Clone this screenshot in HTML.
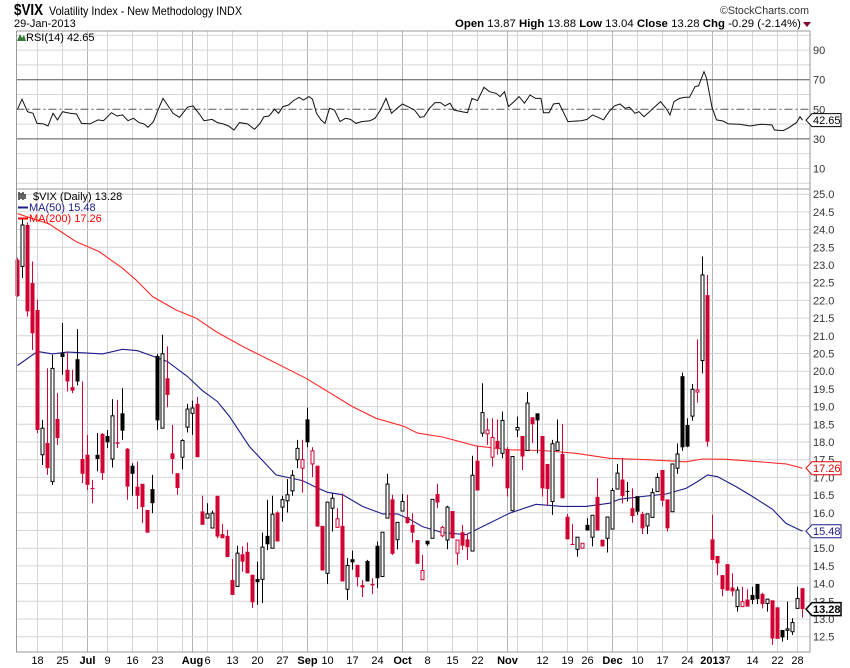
<!DOCTYPE html>
<html><head><meta charset="utf-8"><style>
html,body{margin:0;padding:0;background:#fff;}
svg{display:block;font-family:"Liberation Sans",sans-serif;}
</style></head><body>
<svg id="chart" width="850" height="668" viewBox="0 0 850 668" xmlns="http://www.w3.org/2000/svg">
<text x="14" y="15" font-size="16" font-weight="bold" fill="#000" textLength="29" lengthAdjust="spacingAndGlyphs">$VIX</text>
<text x="49" y="15" font-size="12" fill="#000" textLength="193" lengthAdjust="spacingAndGlyphs">Volatility Index - New Methodology  INDX</text>
<text x="14" y="27" font-size="11" fill="#000">29-Jan-2013</text>
<text x="720" y="14" font-size="11" fill="#333" textLength="89" lengthAdjust="spacingAndGlyphs">©StockCharts.com</text>
<text x="455" y="27" font-size="11" fill="#000" textLength="346" lengthAdjust="spacingAndGlyphs"><tspan font-weight="bold">Open</tspan> 13.87 <tspan font-weight="bold">High</tspan> 13.88 <tspan font-weight="bold">Low</tspan> 13.04 <tspan font-weight="bold">Close</tspan> 13.28 <tspan font-weight="bold">Chg</tspan> -0.29 (-2.14%)</text>
<path d="M803 22 L811 22 L807 27 Z" fill="#8b0033"/>
<g id="rsiPanel"></g>
<g id="mainPanel"></g>
<g id="xAxis"></g>
</svg>
<script>
const NS='http://www.w3.org/2000/svg';
// ---- data ----
const opens=[23.15,22.96,24.13,22.49,21.73,17.64,17.97,16.88,18.65,20.51,20.04,19.55,20.34,17.52,17.64,16.70,17.64,18.23,18.17,17.52,17.99,18.81,17.81,17.33,16.74,16.82,16.08,16.67,20.43,18.39,19.80,17.68,17.12,17.57,18.42,18.81,19.08,16.04,15.85,15.57,16.48,15.40,15.35,14.10,13.92,14.83,14.90,14.25,14.13,14.12,15.35,15.00,16.01,16.16,16.34,16.62,17.50,17.26,18.64,17.38,17.33,15.63,14.29,16.13,15.59,15.63,13.84,14.69,14.53,13.96,14.64,13.99,15.07,14.20,15.85,16.38,15.24,16.05,15.88,15.66,15.23,14.11,15.21,15.28,16.53,15.35,15.23,16.05,14.86,15.45,15.25,14.92,17.47,18.25,18.23,17.57,18.03,17.68,17.80,16.06,18.34,18.17,17.76,18.70,18.81,18.17,17.38,16.32,17.76,17.66,15.89,15.12,14.97,15.00,15.66,15.31,16.45,15.24,15.28,15.54,16.67,16.94,16.62,16.13,16.47,15.97,15.63,15.87,16.60,17.21,16.38,16.03,17.26,19.86,18.48,18.73,19.41,20.30,22.15,15.25,14.78,14.24,14.55,13.89,13.35,13.35,13.55,13.68,13.99,13.71,13.44,13.53,13.33,12.69,12.68,12.64,13.30,13.87];
const highs=[23.2,24.3,24.2,23.10,22.02,18.63,20.08,20.46,19.38,21.36,20.56,20.04,21.19,19.71,18.2,16.93,18.25,18.25,18.34,19.21,19.19,19.52,17.83,17.4,17.45,16.82,16.08,17.07,20.49,21.03,20.70,18.48,17.12,18.08,19.08,19.17,19.27,16.48,16.27,16.06,16.48,15.69,15.52,14.69,15.07,15.05,15.16,14.25,14.62,15.44,16.37,16.48,16.04,16.48,16.95,17.21,18.06,18.06,18.97,17.85,17.33,15.63,16.30,16.55,16.13,16.55,14.72,14.93,14.53,14.10,14.67,14.15,15.19,15.45,17.10,16.51,15.73,16.53,16.51,15.99,15.23,14.81,15.21,16.38,16.82,15.63,16.20,16.05,15.23,15.66,15.42,17.61,17.87,19.66,18.67,18.67,18.64,18.86,17.85,17.59,18.72,18.17,19.41,18.70,18.81,18.17,17.38,18.06,18.64,18.51,15.97,15.69,15.31,15.14,15.85,15.93,16.98,15.24,15.88,16.70,17.38,17.54,16.87,16.69,16.47,16.03,15.97,16.69,17.12,17.21,16.38,17.38,17.96,19.96,18.67,19.64,20.90,23.24,22.72,15.94,14.78,14.24,14.55,14.29,13.91,13.91,13.84,13.91,13.99,13.74,13.55,13.53,13.33,12.69,13.49,13.02,13.91,13.88];
const lows=[22.1,22.63,21.54,20.60,18.25,17.35,17.07,16.79,17.92,19.90,19.43,19.38,19.60,16.84,16.65,16.27,17.17,16.93,17.83,17.28,17.83,18.06,16.37,16.48,16.10,15.71,15.44,15.99,18.34,18.39,18.98,17.10,16.51,17.23,18.27,18.20,17.57,15.66,15.85,15.57,15.28,15.28,14.75,13.68,13.92,14.34,14.29,13.31,13.40,13.45,14.95,15.00,15.19,15.75,16.01,16.48,17.26,16.57,17.85,17.01,15.61,14.37,13.99,15.47,15.59,14.06,13.54,14.39,13.92,13.62,14.06,13.71,13.87,14.20,15.85,14.81,14.97,16.05,15.69,15.16,14.56,14.11,15.07,15.28,16.13,15.31,14.97,15.28,14.53,14.95,14.67,14.92,16.63,18.15,17.92,17.31,17.64,17.54,16.46,16.04,18.14,17.21,17.76,17.97,17.68,16.46,16.20,15.94,17.76,16.41,15.25,15.09,14.76,15.00,15.50,15.05,15.50,15.05,14.88,15.54,16.67,16.27,16.32,15.72,15.94,15.40,15.40,15.87,16.60,16.19,15.47,16.03,17.10,17.75,17.85,18.60,19.11,19.94,17.87,14.67,14.24,13.64,13.80,13.64,13.21,13.35,13.35,13.42,13.42,13.30,13.21,12.27,12.44,12.36,12.41,12.55,13.30,13.04];
const closes=[22.12,24.13,21.69,21.07,18.34,18.39,17.26,20.08,18.11,20.40,19.71,19.45,19.71,17.10,16.79,16.67,17.52,17.12,17.99,18.74,17.95,18.32,16.74,17.10,16.48,16.16,15.44,16.27,18.61,20.49,19.33,17.52,16.70,18.04,18.93,18.96,17.57,15.66,15.97,15.99,15.33,15.28,14.75,13.68,14.86,14.62,14.29,13.47,14.04,15.03,15.11,15.96,15.19,16.37,16.51,17.06,17.82,17.50,17.99,17.75,15.61,14.37,16.30,16.41,15.83,14.06,14.51,14.60,14.18,13.89,14.06,13.95,14.15,15.45,16.81,14.84,15.73,16.32,15.71,15.44,14.56,14.37,15.11,16.38,16.29,15.59,16.16,15.28,15.23,15.07,15.03,17.06,16.63,18.83,18.34,18.13,17.82,18.61,16.69,17.59,18.41,17.59,19.10,18.50,18.61,16.69,16.67,17.95,18.00,16.41,15.25,15.09,15.31,15.14,15.50,15.93,15.50,15.05,15.88,16.63,17.12,16.47,16.60,15.91,16.03,15.56,15.97,16.57,17.00,16.34,15.56,17.38,17.66,17.85,17.87,19.49,19.47,22.72,18.01,14.67,14.57,13.84,13.80,13.78,13.82,13.49,13.35,13.54,13.56,13.42,13.56,12.45,12.44,12.48,12.72,12.90,13.58,13.28];
const priorClose=23.0;
const ma50Idx=[0,4,7,10,14,17,21,24,27,30,34,37,40,42.4,46.4,51.7,57,60,62,65,69,73,76,78.4,81,85,89.7,94.4,98.4,103.7,109,113.7,118.4,120.4,125,129.7,133.7,136,138,140,143.7,147,151,153.7,157];
const ma50Val=[20.16,20.56,20.49,20.54,20.51,20.49,20.62,20.58,20.43,20.27,19.85,19.45,19.14,18.72,17.87,17.07,16.91,16.70,16.58,16.51,16.18,15.97,15.97,15.82,15.61,15.44,15.38,15.71,15.99,16.24,16.18,16.18,16.27,16.38,16.46,16.53,16.69,16.88,17.07,17.02,16.74,16.46,16.10,15.70,15.48];
const ma200Idx=[0,6.3,11.7,16.3,21,23.7,27,31.7,35.7,39.7,45,50.4,57.7,67,71.7,77.3,80,85,91.7,98.4,105,111.7,118.4,126,133.7,137,141.7,148.4,153.7,157];
const ma200Val=[24.45,24.16,23.66,23.38,22.91,22.58,22.11,21.73,21.50,21.12,20.70,20.32,19.80,19.00,18.67,18.44,18.25,18.14,17.89,17.78,17.76,17.68,17.54,17.50,17.44,17.52,17.51,17.44,17.38,17.26];
const rsiIdx=[0,0.9,2.0,3.1,3.9,5.2,6.1,7.1,8.0,9.0,10.5,11.8,12.8,14.5,16.1,17.2,18.8,19.9,21.0,22.1,23.2,24.3,25.3,26.1,27.2,28.1,29.1,30.0,31.1,32.4,34.0,35.1,36.5,37.3,38.9,40.0,41.1,42.2,43.3,44.4,46.0,47.4,48.5,49.3,50.3,51.4,52.2,53.1,54.2,55.2,56.3,57.2,58.3,59.0,59.8,60.7,61.5,62.4,63.4,64.5,65.6,66.6,67.7,68.8,70.5,71.5,72.6,73.7,74.8,75.9,77.0,78.3,79.4,80.5,81.3,82.4,83.5,84.6,85.5,86.5,87.3,88.9,90.0,90.9,92.0,93.3,94.4,95.7,96.5,97.4,98.2,99.3,100.3,101.4,102.5,103.6,104.7,105.2,106.3,107.2,108.3,110.1,111.8,112.8,113.9,115.0,116.1,117.2,118.3,119.4,120.5,121.5,122.4,123.5,124.3,125.3,126.4,127.5,128.6,129.7,130.5,131.3,132.4,133.5,134.4,135.5,136.2,137.3,137.8,138.9,139.8,141.1,142.2,144.4,146.5,148.7,150.9,151.4,153.1,154.1,155.8,156.5,157];
const rsiVal=[50.0,56.8,48.4,47.3,40.5,40.1,38.7,47.3,42.8,48.4,47.3,46.8,40.5,40.1,42.8,42.3,47.7,45.5,46.2,42.3,43.9,41.0,40.1,37.8,41.7,49.5,57.4,52.9,47.3,44.6,51.4,52.3,46.2,42.3,43.2,41.0,40.1,38.7,36.0,41.0,40.1,36.5,40.5,45.0,45.5,50.0,47.3,51.8,52.9,55.9,58.1,56.3,58.6,56.8,47.3,42.8,40.5,50.7,49.5,41.7,43.9,43.2,40.5,41.7,42.3,43.9,49.5,57.4,47.3,50.7,53.6,51.4,49.5,44.6,45.0,50.7,54.5,54.5,52.3,54.1,49.5,48.4,47.7,57.4,55.9,64.9,61.9,60.8,58.6,61.9,51.8,55.2,58.6,54.1,59.7,57.4,57.4,47.7,47.7,53.6,54.1,41.7,42.1,42.3,43.2,46.2,44.6,42.8,48.4,52.3,53.6,50.7,51.4,47.3,48.4,45.0,48.4,51.8,55.2,50.7,46.2,55.2,57.4,58.1,58.1,65.3,65.8,75.5,71.0,51.4,42.8,42.1,40.1,39.9,38.7,39.9,39.4,36.0,35.6,37.2,41.0,45.0,42.65];
const priceTicks=[25.0,24.5,24.0,23.5,23.0,22.5,22.0,21.5,21.0,20.5,20.0,19.5,19.0,18.5,18.0,17.5,17.0,16.5,16.0,15.5,15.0,14.5,14.0,13.5,13.0,12.5];
const rsiGrid=[100,90,80,70,60,50,40,30,20,10,0];
const rsiTickLabels=[90,70,50,30,10];
const gridIdx=[4,9,14,18,23,28,33,35,38,43,48,53,58,62,67,72,77,82,87,92,98,100,105,110,114,119,124,129,134,139,142,147,152,156];
const monthIdx=[14,35,58,77,98,119,139];
const tickIdx=[4,9,14,18,23,28,35,38,43,48,53,58,62,67,72,77,82,87,92,98,105,110,114,119,124,129,134,139,142,147,152,156];
const tickLabels=["18","25","Jul","9","16","23","Aug","6","13","20","27","Sep","10","17","24","Oct","8","15","22","Nov","12","19","26","Dec","10","17","24","2013","7","14","22","28"];
const tickBold=["Jul","Aug","Sep","Oct","Nov","Dec","2013"];

// ---- scales ----
const L=16.5,R=810,RT=31,RB=189,MT=189,MB=652;
const x=i=>17.5+5*i;
const yP=v=>265+(23-v)*35.4;
const yR=r=>109.3-(r-50)*1.479;
const RED='#d10032';

function mk(tag,attrs,parent){const e=document.createElementNS(NS,tag);for(const k in attrs)e.setAttribute(k,attrs[k]);parent.appendChild(e);return e;}
const rsiG=document.getElementById('rsiPanel');
const mainG=document.getElementById('mainPanel');
const axG=document.getElementById('xAxis');

[[rsiG,RT,RB],[mainG,MT,MB]].forEach(([g,t,b])=>{
  gridIdx.forEach(i=>{
    const m=monthIdx.includes(i);
    const ln=mk('line',{x1:x(i),x2:x(i),y1:t,y2:b,stroke:m?'#b4b4b4':'#d6d6d6','stroke-width':1},g);
    
    
  });
});
rsiGrid.forEach(r=>{
  const y=yR(r);
  if(y<RT||y>RB) return;
  let st='#d6d6d6',dash='';
  if(r===70||r===30) st='#555';
  if(r===50){st='#555';dash='8,3,2,3';}
  const ln=mk('line',{x1:L,x2:R,y1:y,y2:y,stroke:st,'stroke-width':1,'stroke-dasharray':dash},rsiG);
  
  
});
rsiTickLabels.forEach(r=>{
  const t=mk('text',{x:813,y:yR(r)+4,'font-size':11,fill:'#333'},rsiG);
  t.textContent=r;
  
  
});
{
  const pts=rsiIdx.map((t,k)=>x(t)+','+yR(rsiVal[k]).toFixed(1)).join(' ');
  const pl=mk('polyline',{points:pts,fill:'none',stroke:'#111','stroke-width':1},rsiG);
  
  
}
priceTicks.forEach(v=>{
  const y=yP(v);
  const ln=mk('line',{x1:L,x2:R,y1:y,y2:y,stroke:'#d6d6d6','stroke-width':1},mainG);
  
  
  const t=mk('text',{x:813,y:y+4,'font-size':11,fill:'#333'},mainG);
  t.textContent=v.toFixed(1);
  
  
});
function maLine(idx,val,color,name){
  const pts=idx.map((t,k)=>x(t)+','+yP(val[k]).toFixed(1)).join(' ');
  const pl=mk('polyline',{points:pts,fill:'none',stroke:color,'stroke-width':1.1},mainG);
  
  
}
maLine(ma200Idx,ma200Val,'#ff2a2a','ma200-line');
maLine(ma50Idx,ma50Val,'#1c1c8a','ma50-line');
closes.forEach((c,i)=>{
  const o=opens[i],h=highs[i],l=lows[i];
  const prev=i===0?priorClose:closes[i-1];
  const col=c>=prev?'#000':RED;
  const filled=c<o;
  const cx=x(i);
  const g=mk('g',{},mainG);
  
  
  const top=yP(Math.max(o,c)),bot=yP(Math.min(o,c));
  mk('line',{x1:cx,x2:cx,y1:yP(h),y2:top,stroke:col,'stroke-width':1},g);
  mk('line',{x1:cx,x2:cx,y1:bot,y2:yP(l),stroke:col,'stroke-width':1},g);
  const hgt=Math.max(bot-top,1);
  if(filled) mk('rect',{x:cx-2,y:top,width:4,height:hgt,fill:col},g);
  else mk('rect',{x:cx-1.5,y:top,width:3,height:hgt,fill:'#fff',stroke:col,'stroke-width':1},g);
});
[[RT,RB,'rsi-panel-border'],[MT,MB,'price-panel-border']].forEach(([t,b,n])=>{
  const r=mk('rect',{x:L,y:t,width:R-L,height:b-t,fill:'none',stroke:'#999','stroke-width':1},document.getElementById('chart'));
  
  
});
function flag(y,txt,col,bold,name){
  const g=mk('g',{},document.getElementById('chart'));
  
  
  mk('path',{d:`M806 ${y} L812 ${y-6.5} L841 ${y-6.5} L841 ${y+6.5} L812 ${y+6.5} Z`,fill:'#fff',stroke:col,'stroke-width':bold?1.5:1},g);
  const t=mk('text',{x:813,y:y+4,'font-size':11,fill:col,'font-weight':bold?'bold':'normal'},g);
  t.textContent=txt;
}
flag(yP(17.26),'17.26','#e00000',false,'ma200-value-flag');
flag(yP(15.48),'15.48','#1c1c8a',false,'ma50-value-flag');
flag(yP(13.28),'13.28','#000',true,'last-price-flag');
flag(yR(42.65),'42.65','#000',false,'rsi-value-flag');
tickIdx.forEach((i,k)=>{
  const lab=tickLabels[k];
  const t=mk('text',{x:x(i),y:664,'font-size':11,'text-anchor':'middle',fill:'#000','font-weight':tickBold.includes(lab)?'bold':'normal'},axG);
  t.textContent=lab;
  
  
});
const svg=document.getElementById('chart');
function legendText(xp,y,txt,col,name){
  const t=mk('text',{x:xp,y:y,'font-size':11,fill:col},svg);
  t.textContent=txt;
  
  
}
{
  const ic=mk('path',{d:'M17 41 L20 34 L22 38 L24 35 L26 41 Z',fill:'#3a7a3a'},svg);
  
  
}
legendText(26,41,'RSI(14) 42.65','#000','rsi-legend');
{
  const ic=mk('path',{d:'M19 192 L19 200 M21 193 L21 199 M23 192 L23 200 M25 194 L25 199',stroke:'#000','stroke-width':1.2,fill:'none'},svg);
  
  
}
legendText(33,200,'$VIX (Daily) 13.28','#000','price-legend');
{
  const a=mk('line',{x1:18,x2:28,y1:207.5,y2:207.5,stroke:'#1c1c8a','stroke-width':2},svg);
  
  
  const b=mk('line',{x1:18,x2:28,y1:218.5,y2:218.5,stroke:'#ff0000','stroke-width':2},svg);
  
  
}
legendText(29,211,'MA(50) 15.48','#1c1c8a','ma50-legend');
legendText(29,222,'MA(200) 17.26','#ff0000','ma200-legend');
</script>
</body></html>
